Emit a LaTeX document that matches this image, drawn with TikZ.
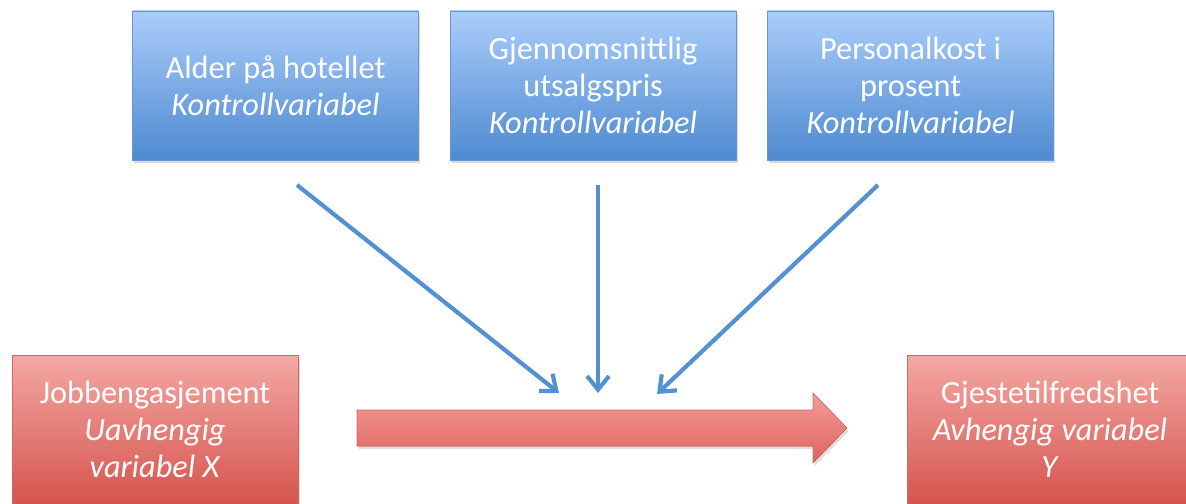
\documentclass[tikz,border=0pt]{standalone}
\usepackage{fontspec}
\setmainfont{Carlito}
\usepackage{tikz}
\usetikzlibrary{arrows.meta, positioning, shadows}
\definecolor{kontrolltop}{RGB}{170,205,250}
\definecolor{kontrollbunn}{RGB}{78,138,208}
\definecolor{kontrollkant}{RGB}{105,150,208}
\definecolor{variabeltop}{RGB}{243,168,163}
\definecolor{variabelbunn}{RGB}{214,84,78}
\definecolor{variabelkant}{RGB}{208,105,100}
\definecolor{piltop}{RGB}{243,158,153}
\definecolor{pilbunn}{RGB}{222,98,92}
\definecolor{pilblue}{RGB}{85,145,210}
\tikzset{
    kontroll/.style={rectangle, minimum width=7.15cm, minimum height=3.725cm, text centered, align=center, draw=kontrollkant, top color=kontrolltop, bottom color=kontrollbunn, text=white, font=\fontsize{23}{26.5}\selectfont, drop shadow={opacity=0.3, shadow xshift=0.04cm, shadow yshift=-0.08cm}},
    variabel/.style={rectangle, minimum width=7.15cm, minimum height=3.725cm, text centered, align=center, draw=variabelkant, top color=variabeltop, bottom color=variabelbunn, text=white, font=\fontsize{23}{26.5}\selectfont, drop shadow={opacity=0.3, shadow xshift=0.04cm, shadow yshift=-0.08cm}},
    pil/.style={-{Straight Barb[length=0.34cm, width=0.55cm, line width=3pt]}, line width=3pt, pilblue}
}

\begin{document}
\begin{tikzpicture}[
    node distance=0.775cm,
    storpil/.style={draw=variabelkant, top color=piltop, bottom color=pilbunn, drop shadow={opacity=0.25, shadow xshift=0.04cm, shadow yshift=-0.08cm}}
]
    \useasboundingbox (0,0) rectangle (29.65,12.575);
    \clip (0,0) rectangle (29.65,12.575);

    % Kontrollvariabler
    \node[kontroll] (alder) at (6.8875,10.4375) {Alder på hotellet\\\textit{Kontrollvariabel}};
    \node[kontroll, right=of alder] (pris) {Gjennomsnittlig\\utsalgspris\\\textit{Kontrollvariabel}};
    \node[kontroll, right=of pris] (personal) {Personalkost i\\prosent\\\textit{Kontrollvariabel}};

    % Uavhengig og avhengig variabel
    \node[variabel] (jobb) at (3.875,1.8375) {Jobbengasjement\\\textit{Uavhengig}\\\textit{variabel X}};
    \node[variabel] (gjest) at (26.25,1.8375) {Gjestetilfredshet\\\textit{Avhengig variabel}\\\textit{Y}};

    % Stor pil
    \fill[storpil] (8.925,2.325) -- (20.325,2.325) -- (20.325,2.75) -- (21.175,1.875)
        -- (20.325,1.0) -- (20.325,1.425) -- (8.925,1.425) -- cycle;

    % Piler
    \coordinate (s1) at (7.425,7.95);
    \coordinate (s2) at (14.95,7.95);
    \coordinate (s3) at (21.95,7.95);
    \coordinate (e1) at (13.975,2.75);
    \coordinate (e2) at (14.95,2.75);
    \coordinate (e3) at (16.425,2.725);
    \draw[pil] (s1) -- (e1);
    \draw[pil] (s2) -- (e2);
    \draw[pil] (s3) -- (e3);
\end{tikzpicture}
\end{document}
